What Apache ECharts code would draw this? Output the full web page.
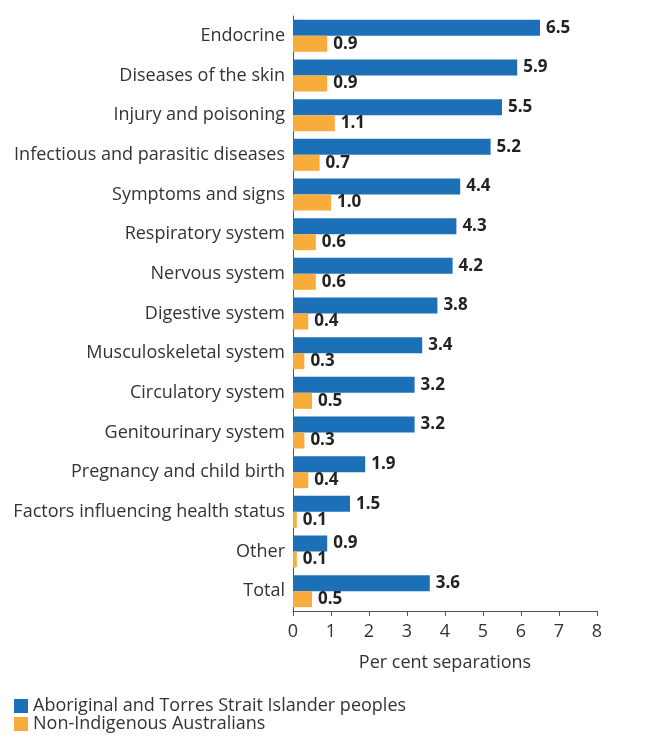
<!DOCTYPE html>
<html>
<head>
<meta charset="utf-8">
<title>Per cent separations</title>
<script src="https://cdn.jsdelivr.net/npm/echarts@6/dist/echarts.min.js"></script>
<style>
  html, body { margin: 0; padding: 0; background: #fff; }
  #chart { width: 651px; height: 738px; }
</style>
</head>
<body>
<div id="chart"></div>
<script>
var categories = ['Endocrine', 'Diseases of the skin', 'Injury and poisoning', 'Infectious and parasitic diseases',
  'Symptoms and signs', 'Respiratory system', 'Nervous system', 'Digestive system', 'Musculoskeletal system',
  'Circulatory system', 'Genitourinary system', 'Pregnancy and child birth', 'Factors influencing health status',
  'Other', 'Total'];
var indigenous = [6.5, 5.9, 5.5, 5.2, 4.4, 4.3, 4.2, 3.8, 3.4, 3.2, 3.2, 1.9, 1.5, 0.9, 3.6];
var nonIndigenous = [0.9, 0.9, 1.1, 0.7, 1.0, 0.6, 0.6, 0.4, 0.3, 0.5, 0.3, 0.4, 0.1, 0.1, 0.5];
var seriesNames = ['Aboriginal and Torres Strait Islander peoples', 'Non-Indigenous Australians'];

var font = '"Open Sans", sans-serif';
var chart = echarts.init(document.getElementById('chart'));

var labelStyle = {
  show: true,
  position: 'right',
  distance: 6,
  fontFamily: font,
  fontSize: 17,
  fontWeight: 'bold',
  color: '#222',
  formatter: function (p) { return p.value.toFixed(1); }
};

// one legend per row, stacked like the original key
function legendRow(name, top) {
  return {
    orient: 'vertical',
    left: 9,
    top: top,
    itemWidth: 14,
    itemHeight: 14,
    icon: 'rect',
    selectedMode: false,
    textStyle: { fontFamily: font, fontSize: 18, color: '#333' },
    data: [name]
  };
}

chart.setOption({
  animation: false,
  color: ['#1b70b8', '#f7ac3c'],
  grid: { left: 293, right: 54, top: 16, bottom: 127 },
  legend: [legendRow(seriesNames[0], 692), legendRow(seriesNames[1], 710)],
  xAxis: {
    type: 'value',
    min: 0,
    max: 8,
    interval: 1,
    name: 'Per cent separations',
    nameLocation: 'middle',
    nameGap: 43,
    nameTextStyle: { fontFamily: font, fontSize: 18, color: '#333' },
    axisLine: { show: true, lineStyle: { color: '#555', width: 1 } },
    axisTick: { show: true, length: 5, lineStyle: { color: '#555' } },
    axisLabel: { fontFamily: font, fontSize: 18, color: '#333', margin: 12 },
    splitLine: { show: false }
  },
  yAxis: {
    type: 'category',
    inverse: true,
    data: categories,
    axisLine: { show: true, lineStyle: { color: '#555', width: 1 } },
    axisTick: { show: false },
    axisLabel: { fontFamily: font, fontSize: 18, color: '#333', margin: 8 }
  },
  series: [
    {
      name: seriesNames[0],
      type: 'bar',
      data: indigenous,
      barWidth: 16,
      barGap: '0%',
      label: labelStyle
    },
    {
      name: seriesNames[1],
      type: 'bar',
      data: nonIndigenous,
      barWidth: 16,
      barGap: '0%',
      label: labelStyle
    }
  ]
});
</script>
</body>
</html>
